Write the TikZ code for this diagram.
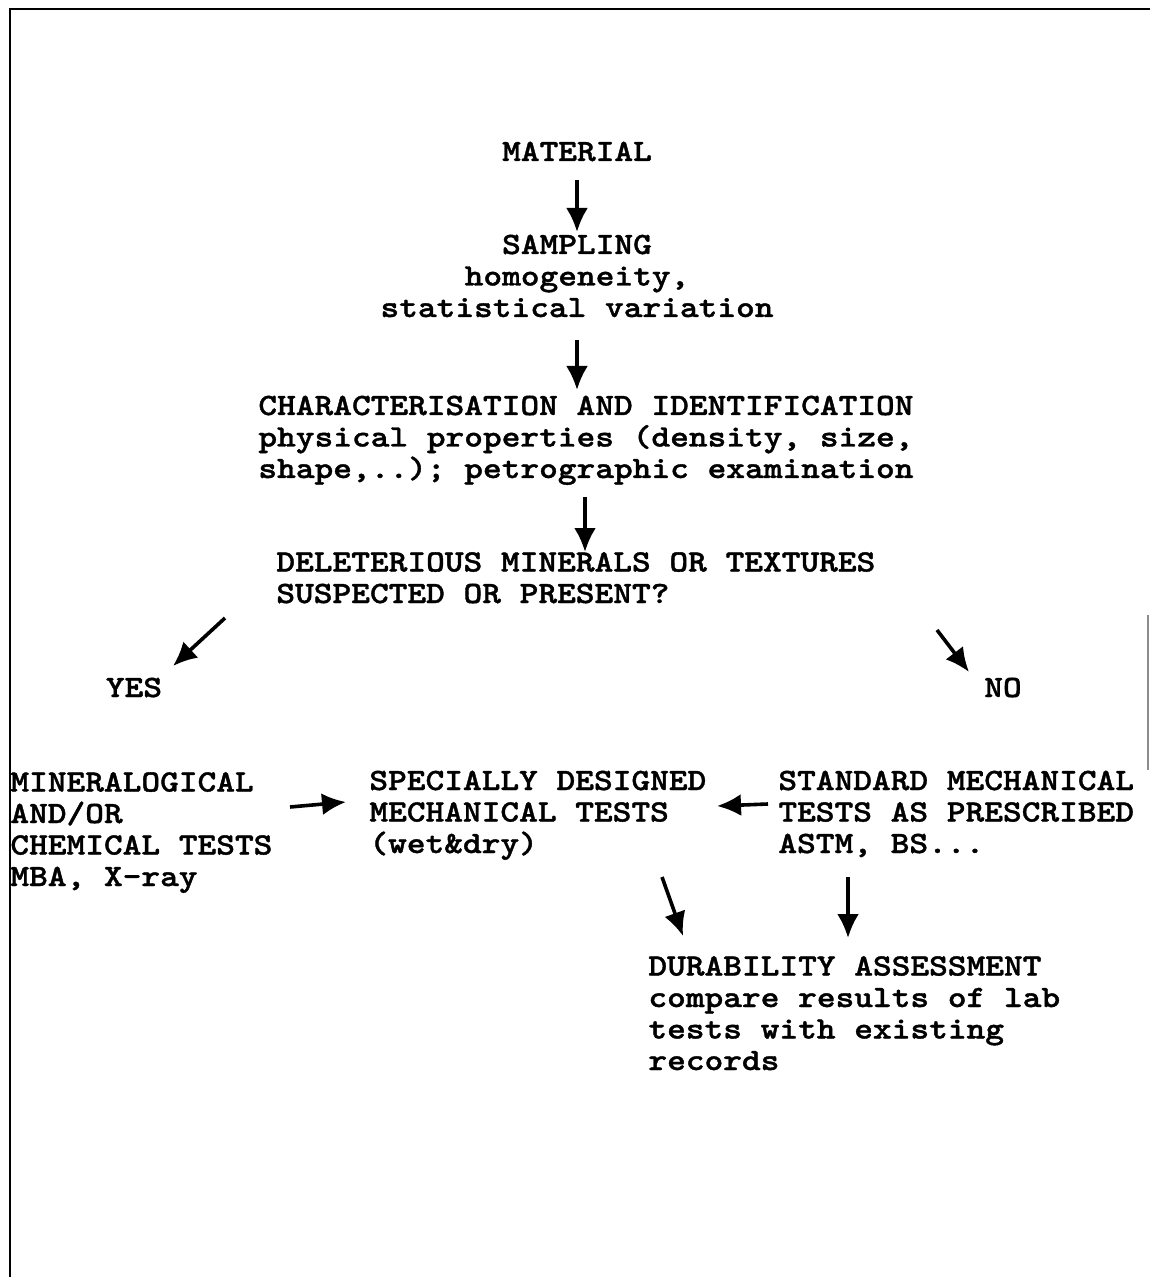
\documentclass[tikz,border=0pt]{standalone}
\usepackage{fontspec}
\newfontfamily\tw{lmmonolt10-bold}[Extension=.otf,FakeStretch=1.15,FakeBold=1.2]
\usetikzlibrary{arrows.meta}
\tikzset{
  txt/.style={inner sep=0pt, anchor=base west, align=left, font=\tw\fontsize{15.5}{15.75}\selectfont},
  ctxt/.style={txt, anchor=base, align=center},
  arr/.style={line width=1.8pt, -{Latex[length=12pt,width=11pt]}},
  frame/.style={line width=1.3pt}
}
\begin{document}
\begin{tikzpicture}[x=0.5pt,y=-0.5pt]
\useasboundingbox (0,0) rectangle (1150,1277);
% frame
\draw[frame] (10,1277) -- (10,9) -- (1150,9);
\draw[line width=0.6pt, black!45] (1148,615) -- (1148,770);
% text nodes (base anchor = baseline of the last line)
\node[ctxt] (mat) at (577,161) {MATERIAL};
\node[ctxt] (samp) at (577,317) {SAMPLING\\homogeneity,\\statistical variation};
\node[txt] (char) at (258,478) {CHARACTERISATION AND IDENTIFICATION\\physical properties (density, size,\\shape,..); petrographic examination};
\node[txt] (del) at (276,603) {DELETERIOUS MINERALS OR TEXTURES\\SUSPECTED OR PRESENT?};
\node[ctxt] (yes) at (134,697) {YES};
\node[ctxt] (no) at (1003,697) {NO};
\node[txt] (min) at (10,886) {MINERALOGICAL\\AND/OR\\CHEMICAL TESTS\\MBA, X-ray};
\node[txt] (spec) at (369,853) {SPECIALLY DESIGNED\\MECHANICAL TESTS\\(wet\&dry)};
\node[txt] (std) at (778,853) {STANDARD MECHANICAL\\TESTS AS PRESCRIBED\\ASTM, BS...};
\node[txt] (dur) at (648,1070) {DURABILITY ASSESSMENT\\compare results of lab\\tests with existing\\records};
% connector end points
\coordinate (a1s) at (577,180); \coordinate (a1e) at (577,232);
\coordinate (a2s) at (577,340); \coordinate (a2e) at (577,390);
\coordinate (a3s) at (585,497); \coordinate (a3e) at (585,552);
\coordinate (a4s) at (225,618); \coordinate (a4e) at (173,666);
\coordinate (a5s) at (937,630); \coordinate (a5e) at (969,672);
\coordinate (a6s) at (290,807); \coordinate (a6e) at (346,802);
\coordinate (a7s) at (768,804); \coordinate (a7e) at (717,806);
\coordinate (a8s) at (662,877); \coordinate (a8e) at (683,936);
\coordinate (a9s) at (848,877); \coordinate (a9e) at (848,938);
% connectors
\draw[arr] (a1s) -- (a1e);
\draw[arr] (a2s) -- (a2e);
\draw[arr] (a3s) -- (a3e);
\draw[arr] (a4s) -- (a4e);
\draw[arr] (a5s) -- (a5e);
\draw[arr] (a6s) -- (a6e);
\draw[arr] (a7s) -- (a7e);
\draw[arr] (a8s) -- (a8e);
\draw[arr] (a9s) -- (a9e);
\end{tikzpicture}
\end{document}
